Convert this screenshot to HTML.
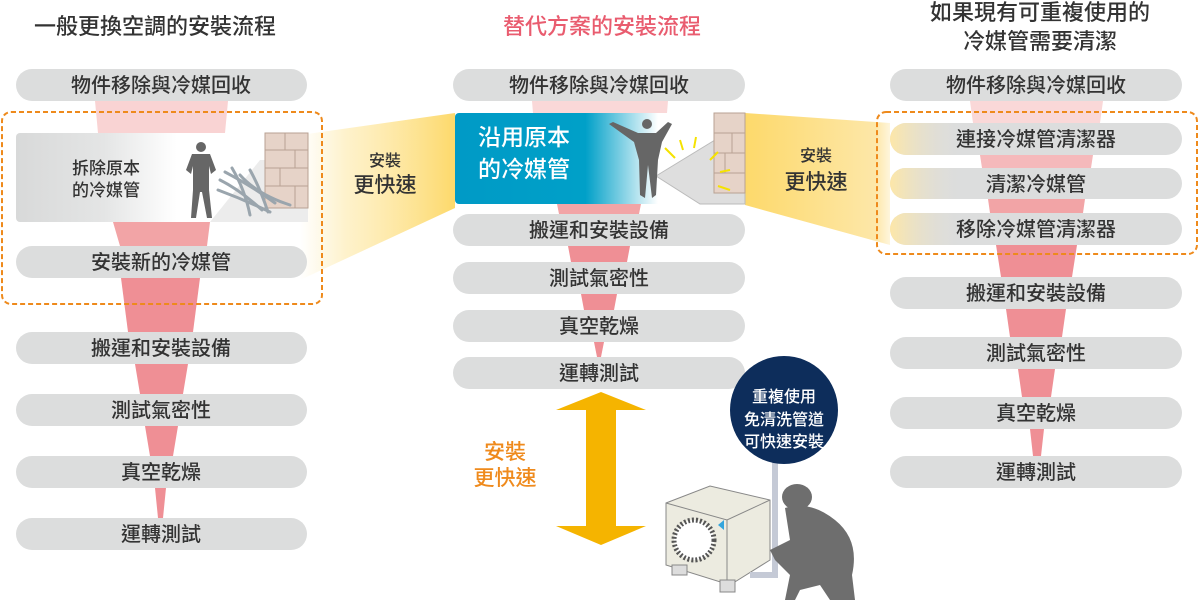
<!DOCTYPE html>
<html><head><meta charset="utf-8"><style>
html,body{margin:0;padding:0;background:#fff;}
svg{display:block;font-family:"Liberation Sans","Noto Sans CJK TC",sans-serif;}
</style></head><body>
<svg width="1200" height="602" viewBox="0 0 1200 602" xmlns="http://www.w3.org/2000/svg">
<defs>
<linearGradient id="yl" x1="0" x2="1" y1="0" y2="0"><stop offset="0" stop-color="#fde9a8" stop-opacity="0"/><stop offset="0.3" stop-color="#fde9a8" stop-opacity="0.6"/><stop offset="1" stop-color="#fdd96b"/></linearGradient>
<linearGradient id="yr" x1="0" x2="1" y1="0" y2="0"><stop offset="0" stop-color="#fdd96b"/><stop offset="0.9" stop-color="#fde7a8"/><stop offset="1" stop-color="#fde7a8" stop-opacity="0.4"/></linearGradient>
<linearGradient id="gb" x1="0" x2="1"><stop offset="0" stop-color="#d8d9d9"/><stop offset="0.3" stop-color="#e4e5e5"/><stop offset="0.55" stop-color="#fff"/></linearGradient>
<linearGradient id="bb" x1="0" x2="1"><stop offset="0" stop-color="#009ac6"/><stop offset="0.45" stop-color="#00a0c8"/><stop offset="0.7" stop-color="#fff"/></linearGradient>
<linearGradient id="pillfade" x1="0" x2="1"><stop offset="0" stop-color="#fde7a8"/><stop offset="0.25" stop-color="#dcdddd" stop-opacity="0"/></linearGradient>
</defs>

<!-- titles -->
<g font-size="22" fill="#333" text-anchor="middle" font-weight="500">
<text x="155" y="34">一般更換空調的安裝流程</text>
<text x="602" y="34" fill="#e95c6f">替代方案的安裝流程</text>
<text x="1040" y="20">如果現有可重複使用的</text>
<text x="1040" y="49">冷媒管需要清潔</text>
</g>

<!-- yellow trapezoids -->
<polygon points="300,135 455,113 455,208 300,280" fill="url(#yl)"/>
<polygon points="745,113 890,123 890,245 745,205" fill="url(#yr)"/>

<!-- funnels left -->
<g>
<polygon points="95,101 228,101 225,133 98,133" fill="#f9d3d3"/>
<polygon points="113,222 210,222 207,246 120,246" fill="#f2a4a6"/>
<polygon points="121,278 200,278 193,332 128,332" fill="#ef8f95"/>
<polygon points="135,364 188,364 183,394 140,394" fill="#ef8f95"/>
<polygon points="145,426 178,426 173,456 150,456" fill="#ef8f95"/>
<polygon points="155,488 166,488 163,518 158,518" fill="#ef8f95"/>
</g>
<!-- funnels middle -->
<g>
<polygon points="532,101 668,101 667,113 533,113" fill="#fad8d8"/>
<polygon points="557,204 641,204 639,214 559,214" fill="#f2a4a6"/>
<polygon points="568,246 630,246 627,262 571,262" fill="#ef8f95"/>
<polygon points="581,294 617,294 614,310 584,310" fill="#ef8f95"/>
<polygon points="594,342 604,342 601,357 597,357" fill="#ef8f95"/>
</g>
<!-- funnels right -->
<g>
<polygon points="970,101 1103,101 1100,123 973,123" fill="#fad8d8"/>
<polygon points="980,155 1093,155 1091,168 982,168" fill="#f5b9bb"/>
<polygon points="988,199 1085,199 1083,213 990,213" fill="#f2a4a6"/>
<polygon points="996,245 1077,245 1072,277 1001,277" fill="#ef8f95"/>
<polygon points="1006,309 1066,309 1062,337 1010,337" fill="#ef8f95"/>
<polygon points="1018,369 1055,369 1051,397 1022,397" fill="#ef8f95"/>
<polygon points="1030,429 1044,429 1041,456 1033,456" fill="#ef8f95"/>
</g>

<!-- left pills -->
<g fill="#dcdddd">
<rect x="16" y="69" width="291" height="32" rx="16"/>
<rect x="16" y="246" width="291" height="32" rx="16"/>
<rect x="16" y="332" width="291" height="32" rx="16"/>
<rect x="16" y="394" width="291" height="32" rx="16"/>
<rect x="16" y="456" width="291" height="32" rx="16"/>
<rect x="16" y="518" width="291" height="32" rx="16"/>
</g>
<rect x="16" y="133" width="292" height="89" rx="4" fill="url(#gb)"/>
<!-- left illustration -->
<polygon points="210,222 260,160 308,160 308,222" fill="#ececec"/>
<rect x="265" y="133" width="43" height="75" fill="#e6d3c8" stroke="#b8a293" stroke-width="1"/>
<g stroke="#b8a293" stroke-width="1"><line x1="265" y1="150" x2="308" y2="150"/><line x1="265" y1="168" x2="308" y2="168"/><line x1="265" y1="186" x2="308" y2="186"/><line x1="285" y1="133" x2="285" y2="150"/><line x1="295" y1="150" x2="295" y2="168"/><line x1="280" y1="168" x2="280" y2="186"/><line x1="295" y1="186" x2="295" y2="208"/></g>
<g stroke="#9aa5ad" stroke-width="3" fill="none" stroke-linecap="round">
<path d="M220 180 Q240 190 262 210"/><path d="M225 172 Q250 185 275 203"/><path d="M232 168 Q245 190 250 215"/><path d="M240 175 Q258 195 290 205"/><path d="M218 190 Q245 200 270 212"/><path d="M250 170 Q260 188 268 212"/>
</g>
<g fill="#666">
<circle cx="201" cy="147" r="5"/>
<path d="M192 154 L210 154 L216 170 L211 174 L209 166 L209 190 L212 218 L207 218 L202 192 L200 192 L196 218 L191 218 L193 190 L193 166 L191 174 L186 170 Z"/>
</g>
<g font-size="17" fill="#333" text-anchor="middle" font-weight="500">
<text x="106" y="174">拆除原本</text><text x="106" y="196">的冷媒管</text>
</g>
<rect x="2" y="112" width="320" height="192" rx="9" fill="none" stroke="#ee8a1c" stroke-width="2" stroke-dasharray="5,3"/>
<g font-size="20" fill="#333" text-anchor="middle" font-weight="500">
<text x="161" y="92">物件移除與冷媒回收</text>
<text x="161" y="269">安裝新的冷媒管</text>
<text x="161" y="355">搬運和安裝設備</text>
<text x="161" y="417">測試氣密性</text>
<text x="161" y="479">真空乾燥</text>
<text x="161" y="541">運轉測試</text>
</g>
<g fill="#333" text-anchor="middle" font-weight="500"><text x="385" y="166" font-size="16">安裝</text><text x="385" y="192" font-size="21">更快速</text></g>

<!-- middle pills -->
<g fill="#dcdddd">
<rect x="453" y="69" width="292" height="32" rx="16"/>
<rect x="453" y="214" width="292" height="32" rx="16"/>
<rect x="453" y="262" width="292" height="32" rx="16"/>
<rect x="453" y="310" width="292" height="32" rx="16"/>
<rect x="453" y="357" width="292" height="32" rx="16"/>
</g>
<rect x="455" y="113" width="290" height="91" rx="4" fill="url(#bb)"/>
<polygon points="656,176 715,140 745,140 745,204 700,204" fill="#dedede" stroke="#bbb"/>
<rect x="714" y="113" width="31" height="80" fill="#e6d3c8" stroke="#b8a293"/>
<g stroke="#b8a293"><line x1="714" y1="133" x2="745" y2="133"/><line x1="714" y1="153" x2="745" y2="153"/><line x1="714" y1="173" x2="745" y2="173"/><line x1="732" y1="133" x2="732" y2="153"/><line x1="725" y1="153" x2="725" y2="173"/></g>
<g stroke="#f5e200" stroke-width="2"><line x1="665" y1="148" x2="675" y2="158"/><line x1="680" y1="140" x2="683" y2="150"/><line x1="696" y1="137" x2="694" y2="148"/><line x1="710" y1="160" x2="718" y2="152"/><line x1="720" y1="172" x2="730" y2="170"/><line x1="718" y1="186" x2="730" y2="190"/></g>
<g fill="#666">
<circle cx="647" cy="124" r="5"/>
<path d="M609 124 L613 122 L638 133 L656 133 L668 122 L672 124 L662 142 L658 160 L656 195 L652 198 L648 165 L645 198 L640 195 L639 160 L634 142 Z"/>
</g>
<g font-size="23" fill="#fff" text-anchor="middle" font-weight="500"><text x="524" y="145">沿用原本</text><text x="524" y="177">的冷媒管</text></g>
<g font-size="20" fill="#333" text-anchor="middle" font-weight="500">
<text x="599" y="92">物件移除與冷媒回收</text>
<text x="599" y="237">搬運和安裝設備</text>
<text x="599" y="285">測試氣密性</text>
<text x="599" y="333">真空乾燥</text>
<text x="599" y="380">運轉測試</text>
</g>
<g fill="#333" text-anchor="middle" font-weight="500"><text x="816" y="161" font-size="16">安裝</text><text x="816" y="189" font-size="21">更快速</text></g>

<!-- orange arrow -->
<polygon points="601,392 646,410 616,410 616,526 646,526 601,545 556,526 586,526 586,410 556,410" fill="#f5b400"/>
<g fill="#ef8a1c" text-anchor="middle" font-size="21" font-weight="500"><text x="505" y="459">安裝</text><text x="505" y="485">更快速</text></g>

<!-- AC unit & worker -->
<polygon points="666,503 710,486 770,500 770,560 730,585 666,565" fill="#ecebe0" stroke="#888"/>
<polyline points="666,503 727,520 770,500" fill="none" stroke="#888"/>
<line x1="727" y1="520" x2="727" y2="585" stroke="#888"/>
<circle cx="694" cy="540" r="20" fill="#fff" stroke="#555" stroke-width="5" stroke-dasharray="2,2"/>
<rect x="688" y="535" width="12" height="10" fill="#fff"/>
<polygon points="718,525 724,520 724,530" fill="#34a5dc"/>
<rect x="672" y="565" width="15" height="10" fill="#ddd" stroke="#888"/>
<rect x="720" y="580" width="15" height="12" fill="#ddd" stroke="#888"/>
<path d="M775 460 L775 575 L750 575" stroke="#c5cad6" stroke-width="6" fill="none"/>
<g fill="#6e6e6e">
<ellipse cx="797" cy="497" rx="15" ry="13"/>
<path d="M785 508 Q810 500 835 520 Q860 540 852 575 L855 600 L830 600 L820 585 L800 590 L795 600 L785 600 L790 575 L775 560 L770 550 L790 540 Z"/>
</g>
<circle cx="784" cy="410" r="54" fill="#0d2d5b"/>
<g fill="#fff" font-size="16" text-anchor="middle" font-weight="500"><text x="784" y="402">重複使用</text><text x="784" y="425">免清洗管道</text><text x="784" y="447">可快速安裝</text></g>

<!-- right pills -->
<g fill="#dcdddd">
<rect x="890" y="69" width="292" height="32" rx="16"/>
<rect x="890" y="123" width="292" height="32" rx="16"/>
<rect x="890" y="168" width="292" height="31" rx="15.5"/>
<rect x="890" y="213" width="292" height="32" rx="16"/>
<rect x="890" y="277" width="292" height="32" rx="16"/>
<rect x="890" y="337" width="292" height="32" rx="16"/>
<rect x="890" y="397" width="292" height="32" rx="16"/>
<rect x="890" y="456" width="292" height="32" rx="16"/>
</g>
<g fill="url(#pillfade)">
<rect x="890" y="123" width="292" height="32" rx="16"/>
<rect x="890" y="168" width="292" height="31" rx="15.5"/>
<rect x="890" y="213" width="292" height="32" rx="16"/>
</g>
<rect x="877" y="112" width="320" height="142" rx="9" fill="none" stroke="#ee8a1c" stroke-width="2" stroke-dasharray="5,3"/>
<g font-size="20" fill="#333" text-anchor="middle" font-weight="500">
<text x="1036" y="92">物件移除與冷媒回收</text>
<text x="1036" y="146">連接冷媒管清潔器</text>
<text x="1036" y="191">清潔冷媒管</text>
<text x="1036" y="236">移除冷媒管清潔器</text>
<text x="1036" y="300">搬運和安裝設備</text>
<text x="1036" y="360">測試氣密性</text>
<text x="1036" y="420">真空乾燥</text>
<text x="1036" y="479">運轉測試</text>
</g>
</svg>
</body></html>
